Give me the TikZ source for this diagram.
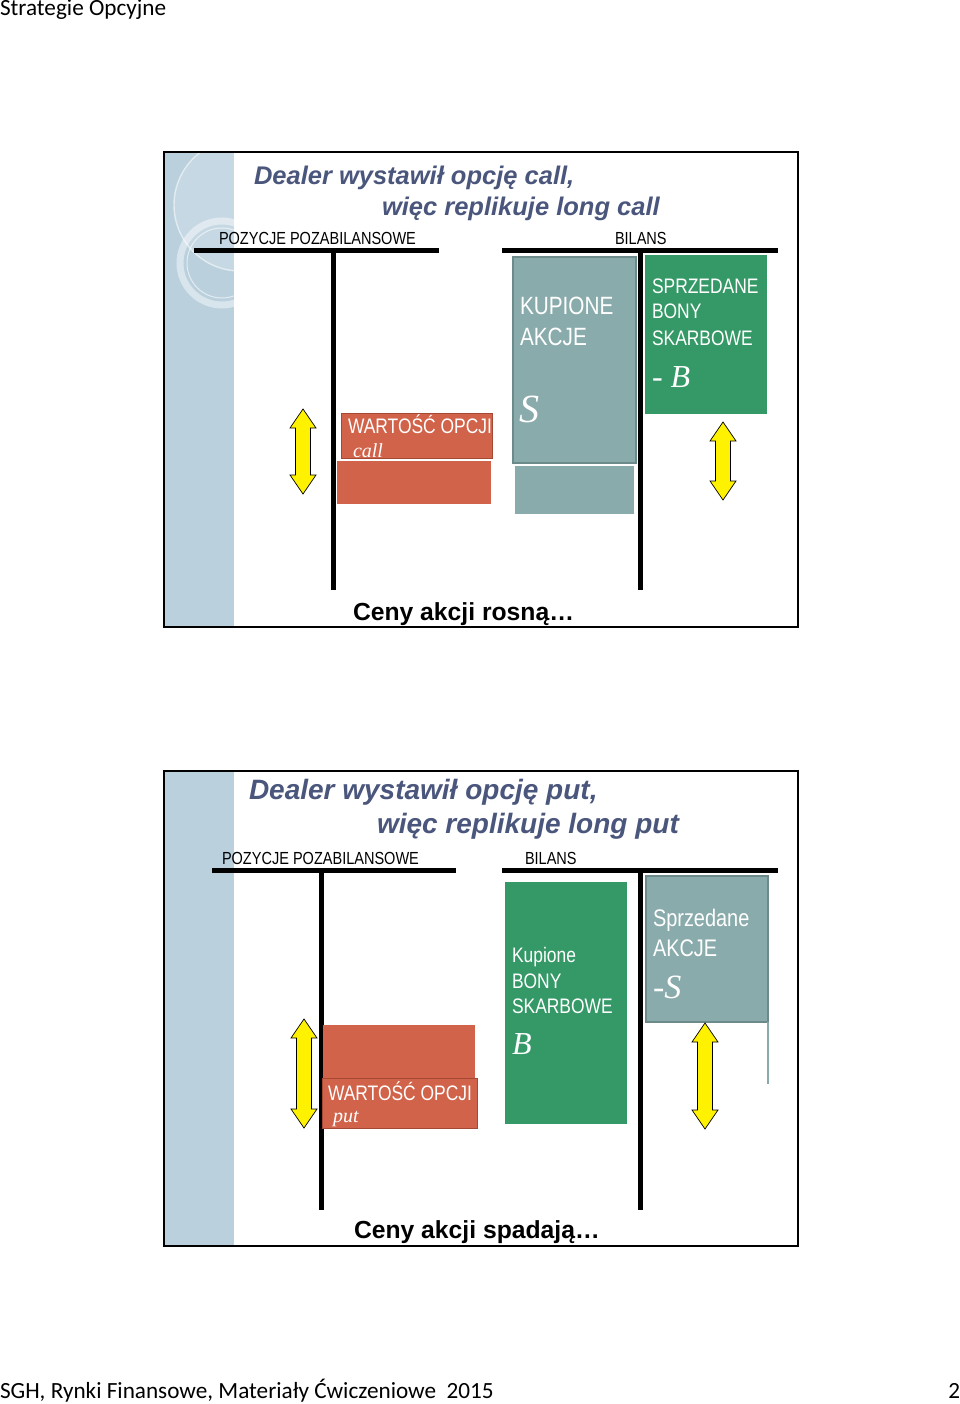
\documentclass[tikz,border=0pt]{standalone}
\usepackage{fontspec}
\setmainfont{Liberation Sans}
\newfontfamily\narrowfont[FakeStretch=0.83]{Liberation Sans}
\newfontfamily\timesfont{Liberation Serif}
\newfontfamily\calibrifont{Carlito}
\definecolor{titleblue}{RGB}{74,86,124}
\definecolor{stripblue}{RGB}{186,208,221}
\definecolor{grayteal}{RGB}{138,171,171}
\definecolor{graytealdark}{RGB}{108,138,138}
\definecolor{greenbox}{RGB}{52,153,102}
\definecolor{redbox}{RGB}{209,99,74}
\definecolor{redboxdark}{RGB}{165,72,52}
\newcommand\yarr[3]{%
  \draw[yarrow] (#1,#2) -- (#1+13,#2+19) -- (#1+7.5,#2+19) -- (#1+7.5,#3-19)
   -- (#1+13,#3-19) -- (#1,#3) -- (#1-13,#3-19) -- (#1-7.5,#3-19)
   -- (#1-7.5,#2+19) -- (#1-13,#2+19) -- cycle;}
\begin{document}
\begin{tikzpicture}[x=1pt,y=-1pt,
  every node/.style={inner sep=0pt,outer sep=0pt,anchor=base west},
  thick bar/.style={line width=5pt,black},
  frame/.style={draw=black,line width=1.6pt},
  yarrow/.style={fill=yellow,draw=black,line width=0.7pt,line join=miter},
  ttl/.style={text=titleblue},
  small/.style={font=\narrowfont\fontsize{17.5}{20}\selectfont},
  boxtxt/.style={text=white},
  ceny/.style={font=\fontsize{24.7}{28}\selectfont\bfseries},
  pagetxt/.style={font=\calibrifont\fontsize{23.2}{26}\selectfont}]
\useasboundingbox (0,0) rectangle (960,1404);
\fill[white] (0,0) rectangle (960,1404);

% header and footer
\node[pagetxt] (hdr) at (0,16) {Strategie Opcyjne};
\node[pagetxt] (ftr) at (0,1398) {SGH, Rynki Finansowe, Materiały Ćwiczeniowe\ \ 2015};
\node[pagetxt,anchor=base east] (pg) at (960,1398) {2};

%================ SLIDE 1 =================
\fill[stripblue] (165,153) rectangle (234,626);
\begin{scope}
  \clip (165,153) rectangle (250,626);
  \fill[white,opacity=0.18] (240,205) circle (66);
  \draw[white,opacity=0.55,line width=1.4pt] (240,205) circle (66);
  \draw[white,opacity=0.45,line width=7pt] (222,263) circle (42);
  \draw[white,opacity=0.6,line width=1pt] (222,263) circle (35);
\end{scope}
\draw[frame] (164,152) rectangle (798,627);

\node[ttl,font=\fontsize{25.5}{30}\selectfont\bfseries\itshape] (t1a) at (254,185) {Dealer wystawił opcję call,};
\node[ttl,font=\fontsize{25.5}{30}\selectfont\bfseries\itshape] (t1b) at (382,216) {więc replikuje long call};

\node[small] (poz1) at (219,245) {POZYCJE POZABILANSOWE};
\node[small] (bil1) at (615,245) {BILANS};
\draw[thick bar] (194,251) -- (439,251);
\draw[thick bar] (333,251) -- (333,590);
\draw[thick bar] (502,251) -- (778,251);
\draw[thick bar] (640,251) -- (640,590);

% gray stock box
\filldraw[fill=grayteal,draw=graytealdark,line width=1.5pt] (513,257) rectangle (636,463);
\fill[grayteal] (515,466) rectangle (634,514);
\node[boxtxt,font=\narrowfont\fontsize{25}{28}\selectfont] (kup1) at (520,315) {KUPIONE};
\node[boxtxt,font=\narrowfont\fontsize{25}{28}\selectfont] (akc1) at (520,345) {AKCJE};
\node[boxtxt,font=\timesfont\itshape\fontsize{40}{44}\selectfont] (s1) at (519,422) {S};

% green bond box
\fill[greenbox] (645,255) rectangle (767,414);
\node[boxtxt,font=\narrowfont\fontsize{21}{24}\selectfont] (spr1) at (652,294) {SPRZEDANE};
\node[boxtxt,font=\narrowfont\fontsize{21}{24}\selectfont] (bon1) at (652,319) {BONY};
\node[boxtxt,font=\narrowfont\fontsize{21}{24}\selectfont] (ska1) at (652,345) {SKARBOWE};
\node[boxtxt,font=\timesfont\fontsize{32}{36}\selectfont] (b1) at (652,387) {- \itshape B};
\yarr{723}{422}{500}

% red option box
\filldraw[fill=redbox,draw=redboxdark,line width=1pt] (341,413) rectangle (492,458);
\fill[redbox] (337,461) rectangle (491,504);
\node[boxtxt,font=\narrowfont\fontsize{21}{24}\selectfont] (war1) at (348,433) {WARTOŚĆ OPCJI};
\node[boxtxt,font=\timesfont\itshape\fontsize{20}{24}\selectfont] (call1) at (353,457) {call};
\yarr{303}{409}{494}

\node[ceny] (cen1) at (353,620) {Ceny akcji rosną…};

%================ SLIDE 2 =================
\fill[stripblue] (165,772) rectangle (234,1245);
\draw[frame] (164,771) rectangle (798,1246);

\node[ttl,font=\fontsize{28}{32}\selectfont\bfseries\itshape] (t2a) at (249,799) {Dealer wystawił opcję put,};
\node[ttl,font=\fontsize{28}{32}\selectfont\bfseries\itshape] (t2b) at (377,833) {więc replikuje long put};

\node[small] (poz2) at (222,864) {POZYCJE POZABILANSOWE};
\node[small] (bil2) at (525,864) {BILANS};
\draw[thick bar] (212,870) -- (456,870);
\draw[thick bar] (321,870) -- (321,1210);
\draw[thick bar] (502,870) -- (778,870);
\draw[thick bar] (640,870) -- (640,1210);

% red option box
\fill[redbox] (323,1025) rectangle (475,1078);
\filldraw[fill=redbox,draw=redboxdark,line width=1pt] (322,1078) rectangle (477,1128);
\node[boxtxt,font=\narrowfont\fontsize{21}{24}\selectfont] (war2) at (328,1100) {WARTOŚĆ OPCJI};
\node[boxtxt,font=\timesfont\itshape\fontsize{20}{24}\selectfont] (put2) at (333,1122) {put};
\yarr{304}{1019}{1128}

% green bond box
\fill[greenbox] (505,882) rectangle (627,1124);
\node[boxtxt,font=\narrowfont\fontsize{21}{24}\selectfont] (kup2) at (512,962) {Kupione};
\node[boxtxt,font=\narrowfont\fontsize{21}{24}\selectfont] (bon2) at (512,988) {BONY};
\node[boxtxt,font=\narrowfont\fontsize{21}{24}\selectfont] (ska2) at (512,1013) {SKARBOWE};
\node[boxtxt,font=\timesfont\itshape\fontsize{32}{36}\selectfont] (b2) at (512,1054) {B};

% gray stock box
\filldraw[fill=grayteal,draw=graytealdark,line width=1.2pt] (646,876) rectangle (768,1022);
\draw[grayteal,line width=1.2pt] (768,1022) -- (768,1084);
\node[boxtxt,font=\narrowfont\fontsize{24}{26}\selectfont] (spr2) at (653,926) {Sprzedane};
\node[boxtxt,font=\narrowfont\fontsize{24}{26}\selectfont] (akc2) at (653,956) {AKCJE};
\node[boxtxt,font=\timesfont\fontsize{34}{38}\selectfont] (s2) at (653,998) {-\itshape S};
\yarr{705}{1023}{1129}

\node[ceny] (cen2) at (354,1238) {Ceny akcji spadają…};
\end{tikzpicture}
\end{document}
